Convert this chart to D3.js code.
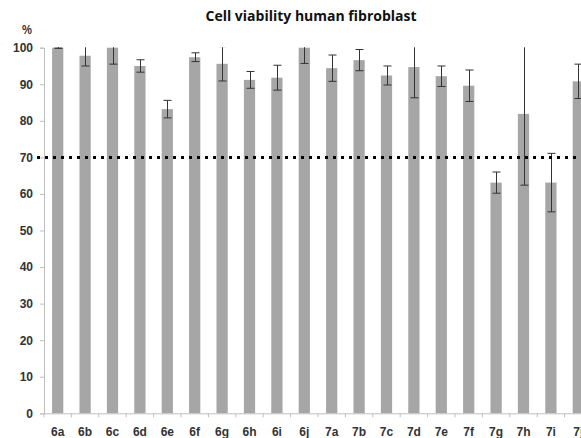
<!DOCTYPE html>
<html>
<head>
<meta charset="utf-8">
<script src="https://cdn.jsdelivr.net/npm/d3@7"></script>
<style>
  body { margin: 0; background: #fff; }
  svg { display: block; font-family: "Open Sans", "Liberation Sans", sans-serif; }
  .tick text { fill: #333; font-weight: 600; font-size: 12px; }
</style>
</head>
<body>
<svg id="chart" width="581" height="438"></svg>
<script>
var categories = ['6a','6b','6c','6d','6e','6f','6g','6h','6i','6j',
                  '7a','7b','7c','7d','7e','7f','7g','7h','7i','7j']
var viability = [100, 97.8, 100, 95.0, 83.2, 97.4, 95.6, 91.2, 91.8, 100,
                 94.4, 96.6, 92.4, 94.7, 92.2, 89.6, 63.1, 81.9, 63.1, 90.8]
var errors = [0.2, 2.8, 4.5, 1.7, 2.4, 1.2, 4.7, 2.3, 3.4, 4.3,
              3.6, 2.9, 2.6, 8.4, 2.8, 4.3, 2.9, 19.5, 8.0, 4.7]
var yTicks = [0, 10, 20, 30, 40, 50, 60, 70, 80, 90, 100]
var threshold = 70

var svg = d3.select('#chart'),
    plotLeft = 44, plotTop = 47.7, plotBottom = 413.3, plotRight = 592

var x = d3.scaleBand()
    .domain(categories)
    .range([plotLeft, plotRight])
    .paddingInner(0.59)
    .paddingOuter(0.295)

var y = d3.scaleLinear()
    .domain([0, 100])
    .range([plotBottom, plotTop])

var data = categories.map(function(c, i) {
    return {name: c, value: viability[i], err: errors[i]}
})

svg.append('defs').append('clipPath').attr('id', 'plot')
    .append('rect')
    .attr('x', plotLeft).attr('y', plotTop - 0.5)
    .attr('width', plotRight - plotLeft).attr('height', plotBottom - plotTop + 1)

// bars
svg.append('g').selectAll('rect')
    .data(data)
    .enter().append('rect')
    .attr('x', function(d) { return x(d.name) })
    .attr('y', function(d) { return y(d.value) })
    .attr('width', x.bandwidth())
    .attr('height', function(d) { return y(0) - y(d.value) })
    .attr('fill', '#a6a6a6')

// error bars, clipped at 100
var eb = svg.append('g')
    .attr('clip-path', 'url(#plot)')
    .attr('stroke', '#333')
    .attr('stroke-width', 1)

var cx = function(d) { return Math.round(x(d.name) + x.bandwidth() / 2) + 0.5 }

eb.selectAll('.whisker')
    .data(data)
    .enter().append('line')
    .attr('class', 'whisker')
    .attr('x1', cx).attr('x2', cx)
    .attr('y1', function(d) { return y(d.value + d.err) })
    .attr('y2', function(d) { return y(d.value - d.err) })

eb.selectAll('.cap')
    .data(data.reduce(function(a, d) {
        a.push({d: d, v: d.value + d.err})
        a.push({d: d, v: d.value - d.err})
        return a
    }, []))
    .enter().append('line')
    .attr('class', 'cap')
    .attr('x1', function(c) { return cx(c.d) - 4 })
    .attr('x2', function(c) { return cx(c.d) + 4 })
    .attr('y1', function(c) { return y(c.v) })
    .attr('y2', function(c) { return y(c.v) })

// y axis
var yAxis = svg.append('g')
    .attr('transform', 'translate(' + plotLeft + ',0)')
    .call(d3.axisLeft(y).tickValues(yTicks).tickSize(4).tickPadding(7))
yAxis.selectAll('line, path').attr('stroke', '#bfbfbf')

// x axis
var xAxis = svg.append('g')
    .attr('transform', 'translate(0,' + plotBottom + ')')
    .call(d3.axisBottom(x).tickSize(0).tickPadding(14))
xAxis.select('.domain').attr('stroke', '#bfbfbf')
xAxis.selectAll('.sep')
    .data(categories)
    .enter().append('line')
    .attr('class', 'sep')
    .attr('x1', function(c) { return x(c) - x.step() * x.paddingInner() / 2 })
    .attr('x2', function(c) { return x(c) - x.step() * x.paddingInner() / 2 })
    .attr('y1', 0).attr('y2', 4)
    .attr('stroke', '#bfbfbf')

// 70% threshold
svg.append('line')
    .attr('x1', 37).attr('x2', 581)
    .attr('y1', y(threshold)).attr('y2', y(threshold))
    .attr('stroke', '#000')
    .attr('stroke-width', 3)
    .attr('stroke-dasharray', '3,5')

svg.append('text')
    .attr('x', 311).attr('y', 21)
    .attr('text-anchor', 'middle')
    .attr('font-size', 14)
    .attr('font-weight', 700)
    .attr('fill', '#111')
    .text('Cell viability human fibroblast')

svg.append('text')
    .attr('x', 27).attr('y', 34)
    .attr('text-anchor', 'middle')
    .attr('font-size', 12)
    .attr('font-weight', 600)
    .attr('fill', '#333')
    .text('%')
</script>
</body>
</html>
